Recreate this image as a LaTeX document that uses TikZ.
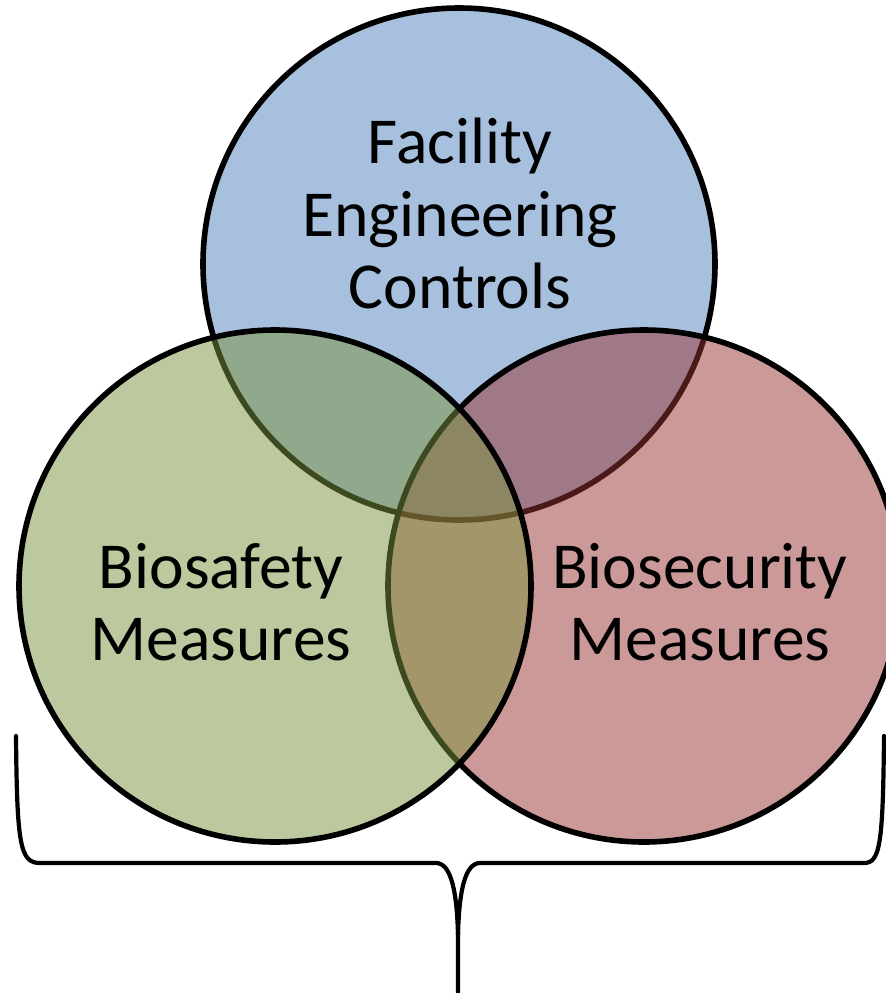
\documentclass[tikz,border=0pt]{standalone}
\usepackage{fontspec}
\setmainfont{Carlito}
\definecolor{cblue}{HTML}{4F81BD}
\definecolor{cred}{HTML}{993333}
\definecolor{cgreen}{HTML}{7A933D}
\begin{document}
\begin{tikzpicture}[x=0.5pt,y=-0.5pt]
\tikzset{
  venn/.style={circle, draw=black, line width=2.8pt, fill opacity=0.5, minimum size=256pt, inner sep=0pt, outer sep=0pt},
  lbl/.style={font=\fontsize{32.8}{36}\selectfont, anchor=base, inner sep=0pt, text=black},
  brace/.style={draw=black, line width=2.1pt, line cap=round}
}
\useasboundingbox (0,0) rectangle (886,993);
\clip (0,0) rectangle (886,993);
\node[venn, fill=cblue] (fac) at (459,264) {};
\node[venn, fill=cred] (sec) at (644,586) {};
\node[venn, fill=cgreen] (saf) at (275,586) {};
% labels
\node[lbl] (f1) at (460,163) {Facility};
\node[lbl] (f2) at (460,236) {Engineering};
\node[lbl] (f3) at (460,308) {Controls};
\node[lbl] (s1) at (221,588) {Biosafety};
\node[lbl] (s2) at (221,660) {Measures};
\node[lbl] (c1) at (700,588) {Biosecurity};
\node[lbl] (c2) at (700,660) {Measures};
% brace
\coordinate (bl) at (16,736);
\coordinate (br) at (884,736);
\coordinate (bm) at (458,935);
\coordinate (tip) at (458,992);
\draw[brace] (bl) .. controls (17,845) and (20,863) .. (40,863) -- (436,863) .. controls (452,863) and (457,895) .. (bm) -- (tip);
\draw[brace] (bm) .. controls (459,895) and (464,863) .. (480,863) -- (864,863) .. controls (880,863) and (883,845) .. (br);
\end{tikzpicture}
\end{document}
